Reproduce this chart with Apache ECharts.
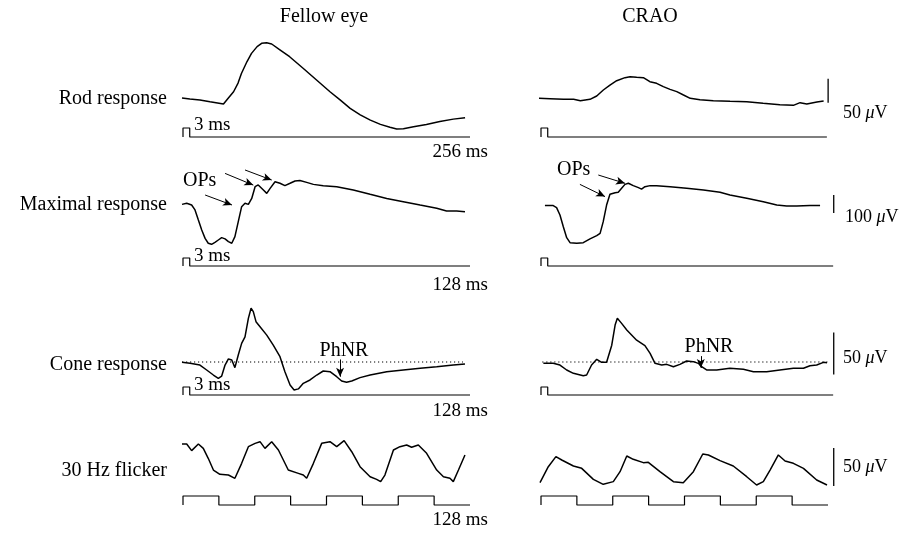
<!DOCTYPE html>
<html><head><meta charset="utf-8">
<script src="https://cdn.jsdelivr.net/npm/echarts@6/dist/echarts.min.js"></script>
<style>html,body{margin:0;padding:0;background:#fff}#c{width:903px;height:533px}</style>
</head><body><div id="c"></div>
<script>
// ---- Labels ----
const columns = ['Fellow eye', 'CRAO'];
const rowLabels = ['Rod response', 'Maximal response', 'Cone response', '30 Hz flicker'];
const sweepLabels = ['256 ms', '128 ms', '128 ms', '128 ms'];
const scaleLabels = ['50', '100', '50', '50']; // µV
const flashLabel = '3 ms';

// ---- Traces: [time (ms), amplitude (µV)] ----
const rodFellow = [[0,0],[7,-2],[16,-4],[25,-8],[37,-12.5],[41,-1],[46,13],[50,31],[53,51],[58,76],[62,93],[67,107],[71,114],[75.5,115],[80,112.5],[87,101],[96,86],[108,62],[120,37.5],[132,13],[141,-4],[150,-21.5],[159,-35],[168,-46],[177,-55],[185.5,-61],[191.5,-64.5],[197.5,-64],[206.5,-60],[218,-55],[230,-49],[242,-44],[252.5,-41]];
const rodCRAO = [[-1.5,-0.7],[9,-1.4],[21,-2.8],[30,-2.8],[36,-5.6],[44.6,-2.8],[50.6,4.2],[56.5,16.7],[62.4,27],[68.4,36],[75.8,42.4],[80.3,44.4],[86.2,43],[92.2,42.4],[98,34],[104,30.6],[110,23.6],[116,18],[122,13.2],[128,6.2],[134,-0.7],[142.7,-3.5],[154.6,-5.6],[169.5,-7],[184.4,-7.6],[199,-11],[214,-14],[226,-15.3],[232,-9.7],[238,-12.5],[247,-8.3],[253,-6.2]];
const maxFellow = [[0,-2],[2.1,3.7],[4.3,-5.6],[5.8,-33],[7.3,-89],[8.8,-144],[10.3,-191],[11.7,-218],[13.2,-224],[14.7,-213],[16.2,-200],[17.7,-187],[19.2,-194],[20.7,-209],[22.2,-218],[23.6,-181],[25.1,-98],[26.6,-15],[28.1,4],[29.6,-2],[31.1,31],[32.6,96],[34,106],[36.3,78],[37.8,59],[39.3,87],[41.5,124],[43.7,115],[45.9,102],[48.2,115],[50.4,128],[52.6,131],[55.6,120],[58.6,109],[63,102],[69,96],[76.4,78],[83.9,54],[91.3,31],[98.7,13],[106.2,-6],[113.6,-24],[118,-39],[122.5,-39],[126.2,-43]];
const maxCRAO = [[2.2,-9],[5.9,-9],[7.4,-20],[8.9,-61],[10.4,-126],[11.9,-187],[13.4,-215],[16.4,-218],[19.3,-215],[22.3,-194],[25.3,-176],[26.8,-163],[28.2,-98],[29.7,-6],[31.2,54],[33.5,63],[34.9,65],[36.4,87],[37.9,109],[39.4,115],[41.6,102],[43.9,91],[45.3,83],[46.8,96],[49.1,102],[52,102],[58,96],[65.4,87],[72.9,78],[80.3,65],[84.7,50],[92.2,31.5],[99.6,13],[105.6,-6],[110,-11],[114.5,-11],[120.4,-9],[124.9,-9]];
const coneFellow = [[0,-0.4],[3.6,-1.6],[8,-3.6],[11,-9.5],[14,-15.5],[16.2,-19.4],[17.7,-16.7],[19.2,-3.6],[20.7,3.6],[22.2,2.4],[23.6,-6.7],[25.1,8.3],[26.6,22.2],[28.1,30],[29.6,52],[30.8,64],[31.8,60],[33,48],[34.8,42],[37.8,32],[40.7,20],[43.7,6.3],[45.9,-11.5],[48.2,-27.4],[50,-33.3],[51.9,-32],[54.1,-25.4],[57.1,-21.4],[60.1,-15.5],[63,-10.7],[66,-11.5],[69,-17.5],[71.2,-22.6],[73.4,-24.2],[75.7,-22.6],[79.4,-18.6],[83.9,-15.5],[91.3,-11.5],[98.7,-9.5],[106.2,-7.5],[113.6,-5.6],[121,-3.6],[126.2,-2.4]];
const coneCRAO = [[1.5,-1.6],[5.9,-1.6],[8.9,-3.6],[11.9,-9.5],[14.9,-13.5],[19.3,-16.3],[20.8,-15.5],[23,-3.6],[25.3,3.2],[27.5,-0.4],[29.7,-0.4],[32,20],[33.5,44],[34.5,52],[36.4,46],[38.7,38],[43.1,26],[46.8,19.4],[49.1,10.3],[51.3,-1.6],[54.3,-3.6],[56.5,-2.8],[59.5,-5.6],[62.4,-2.8],[65.4,1.2],[68.4,0.4],[70.6,-1.6],[72.1,-5.6],[74.3,-9.5],[78.8,-9.5],[84.7,-7.5],[90.7,-8.7],[95.2,-11.5],[101.1,-11.5],[107,-9.5],[113,-7.5],[117.5,-7.5],[120.4,-4.4],[123.4,-3.6],[126.4,-0.4],[128,-0.8]];
const flickerFellow = [[0,27.6],[2.1,27.6],[4.3,18.9],[7.3,27.6],[9.5,21.9],[11.7,8.8],[14,-6.6],[16.9,-12.3],[20.7,-13.2],[23.6,-17.5],[26.6,2.2],[29.6,24.1],[32.6,28.5],[34.8,30.7],[37,21.9],[40,30.7],[43,19.7],[47.4,-6.6],[51.9,-11],[54.1,-13.2],[55.6,-17.5],[58.6,2.2],[62.3,28.5],[66,30.7],[69,24.1],[72.3,32],[75.7,17.5],[79.4,-2.2],[83.9,-15.4],[86.8,-18.9],[88.6,-21.9],[90.5,-13.2],[94.3,19.7],[97.2,24.1],[100.2,26.3],[102.4,23.3],[105.4,26.3],[109.1,15.4],[113.6,-6.6],[116.6,-15.4],[119.5,-17.5],[121,-21.9],[123.3,-6.6],[126.2,13.2]];
const flickerCRAO = [[0,-23.3],[3.7,-2.2],[7.1,11],[9.7,6.6],[14.9,-1.3],[18.6,-4.4],[23.8,-18.9],[28.2,-25.4],[32.7,-21.9],[35.7,-8.8],[38.7,11.8],[41.6,7.5],[46.1,3.1],[48.3,3.5],[53.5,-8.8],[59.5,-21.9],[63.9,-23.3],[68.4,-8.8],[72.6,14.5],[75.1,13.2],[80.3,5.7],[86.2,-1.3],[92.2,-15.4],[96.6,-26.3],[99.6,-21.9],[102.6,-6.6],[106.3,13.2],[109.3,5.3],[113,2.2],[117.5,-4.4],[123.4,-19.7],[128,-26.3]];

// ---- Stimulus markers: [time (ms), on/off] ----
const stimRod = [[0,0],[0,1],[6,1],[6,0],[256,0]];
const stimRodCRAO = [[0,0],[0,1],[6,1],[6,0],[255,0]];
const stimFlash = [[0,0],[0,1],[3,1],[3,0],[128,0]];
const stimFlashCRAO = [[0,0],[0,1],[3,1],[3,0],[130.3,0]];
const stimFlicker = [[0,0],[0,1],[16,1],[16,0],[32,0],[32,1],[48,1],[48,0],[64,0],[64,1],[80,1],[80,0],[96,0],[96,1],[112,1],[112,0],[128,0]];

// ---- Scale bars [time, from µV, to µV] and baselines ----
const scaleRod = [257, -10, 40];
const scaleMax = [131, -50, 50];
const scaleCone = [131, -15, 35];
const scaleFlicker = [131, -27.6, 22.4];
const coneBaselineFellow = [[0,0],[125.3,0]];
const coneBaselineCRAO = [[1,0],[128.5,0]];

// ---- Annotations (data coords) ----
const opsFellow = [[[10.3,50],[22.3,-5.6]], [[19.2,170],[31.8,105]], [[28.1,189],[40,133]]];
const opsCRAO = [[[17.8,109],[29,41]], [[26,161],[37.9,115]]];
const phnrFellow = [[[70.5,3],[70.5,-17.5]]];
const phnrCRAO = [[[71.7,7],[71.7,-7]]];

// ---- Layout ----
const FONT = '"Liberation Serif", "Times New Roman", serif';
const colLeft = [182, 540];
const stimLeft = [183, 541];
const W = 287; // pixels for the nominal sweep
const rows = [
  {top: 38, h: 96, sweep: 256, xmax: 262, ymin: -75, ymax: 125, sTop: 128, sH: 9},
  {top: 168, h: 81, sweep: 128, xmax: 134, ymin: -250, ymax: 200, sTop: 258, sH: 8},
  {top: 302, h: 90, sweep: 128, xmax: 134, ymin: -30 * 50 / 42, ymax: 60 * 50 / 42, sTop: 387, sH: 8},
  {top: 435, h: 55, sweep: 128, xmax: 134, ymin: -25 * 50 / 38, ymax: 30 * 50 / 38, sTop: 496, sH: 9}
];

const grids = [], xAxes = [], yAxes = [];
function addGrid(left, top, width, height, xmax, ymin, ymax) {
  grids.push({left: left, top: top, width: width, height: height});
  const i = grids.length - 1;
  xAxes.push({type: 'value', gridIndex: i, min: 0, max: xmax, show: false});
  yAxes.push({type: 'value', gridIndex: i, min: ymin, max: ymax, show: false});
}
rows.forEach(r => {
  for (let c = 0; c < 2; c++) addGrid(colLeft[c], r.top, W * r.xmax / r.sweep, r.h, r.xmax, r.ymin, r.ymax);
});
rows.forEach(r => {
  for (let c = 0; c < 2; c++) addGrid(stimLeft[c], r.sTop, W * r.xmax / r.sweep, r.sH, r.xmax, 0, 1);
});

function line(data, idx, extra) {
  return Object.assign({
    type: 'line', xAxisIndex: idx, yAxisIndex: idx, data: data,
    symbol: 'none', showSymbol: false, clip: false, silent: true, animation: false,
    lineStyle: {color: '#000', width: 1.5}
  }, extra || {});
}
function arrows(list) {
  return {
    silent: true, animation: false, symbol: ['none', 'arrow'], symbolSize: [6, 9],
    label: {show: false}, lineStyle: {color: '#000', width: 1, type: 'solid'},
    data: list.map(a => [{coord: a[0]}, {coord: a[1]}])
  };
}
function bar(s, idx) {
  return line([[s[0], s[1]], [s[0], s[2]]], idx, {lineStyle: {color: '#000', width: 1.3}});
}
const thin = {lineStyle: {color: '#000', width: 1.2}};
const dotted = {lineStyle: {color: '#000', width: 1.2, type: [1.2, 2.8]}};

const series = [
  line(rodFellow, 0), line(rodCRAO, 1),
  line(maxFellow, 2, {markLine: arrows(opsFellow)}), line(maxCRAO, 3, {markLine: arrows(opsCRAO)}),
  line(coneFellow, 4, {markLine: arrows(phnrFellow)}), line(coneCRAO, 5, {markLine: arrows(phnrCRAO)}),
  line(flickerFellow, 6), line(flickerCRAO, 7),
  line(coneBaselineFellow, 4, dotted), line(coneBaselineCRAO, 5, dotted),
  bar(scaleRod, 1), bar(scaleMax, 3), bar(scaleCone, 5), bar(scaleFlicker, 7),
  line(stimRod, 8, thin), line(stimRodCRAO, 9, thin),
  line(stimFlash, 10, thin), line(stimFlashCRAO, 11, thin),
  line(stimFlash, 12, thin), line(stimFlashCRAO, 13, thin),
  line(stimFlicker, 14, thin), line(stimFlicker, 15, thin)
];

function txt(text, x, y, align, size) {
  return {type: 'text', x: x, y: y, silent: true,
    style: {text: text, fill: '#000', fontSize: size || 19, fontFamily: FONT, align: align || 'left', verticalAlign: 'middle'}};
}
function uv(num, x, y) {
  return {type: 'text', x: x, y: y, silent: true,
    style: {text: num + ' {i|\u03bc}V', fill: '#000', fontSize: 18, fontFamily: FONT, align: 'left', verticalAlign: 'middle',
      rich: {i: {fontStyle: 'italic', fontSize: 18, fontFamily: FONT, fill: '#000'}}}};
}

const graphic = [
  txt(columns[0], 324, 17, 'center', 20), txt(columns[1], 650, 17, 'center', 20),
  txt(rowLabels[0], 167, 99, 'right', 20), txt(rowLabels[1], 167, 205, 'right', 20),
  txt(rowLabels[2], 167, 365, 'right', 20), txt(rowLabels[3], 167, 471, 'right', 20),
  txt(flashLabel, 194, 125), txt(flashLabel, 194, 256), txt(flashLabel, 194, 385),
  txt(sweepLabels[0], 488, 152, 'right'), txt(sweepLabels[1], 488, 285, 'right'),
  txt(sweepLabels[2], 488, 411, 'right'), txt(sweepLabels[3], 488, 520, 'right'),
  txt('OPs', 183, 181, 'left', 20), txt('OPs', 557, 170, 'left', 20),
  txt('PhNR', 344, 351, 'center', 20), txt('PhNR', 709, 347, 'center', 20),
  uv(scaleLabels[0], 843, 113), uv(scaleLabels[1], 845, 217),
  uv(scaleLabels[2], 843, 358), uv(scaleLabels[3], 843, 467)
];

const chart = echarts.init(document.getElementById('c'), null, {renderer: 'canvas'});
chart.setOption({
  backgroundColor: '#fff', animation: false,
  grid: grids, xAxis: xAxes, yAxis: yAxes, series: series, graphic: graphic
});
</script></body></html>
